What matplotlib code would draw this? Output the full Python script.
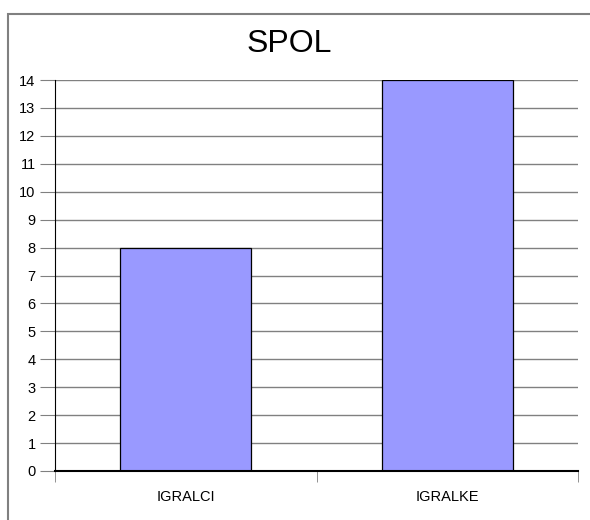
import matplotlib.pyplot as plt
from matplotlib.patches import Rectangle

# data
categories = ["IGRALCI", "IGRALKE"]
values = [8, 14]
y_ticks = list(range(0, 15))

plt.rcParams['font.family'] = ['Liberation Sans', 'DejaVu Sans']

fig = plt.figure(figsize=(5.9, 5.2), dpi=100)

# frame round the whole chart area
fig.patches.append(Rectangle((8 / 590, -0.1), 1.2, 1 - 14 / 520 + 0.1,
                             transform=fig.transFigure, fill=False,
                             edgecolor="#808080", linewidth=1.5))

ax = fig.add_axes([55 / 590, 49 / 520, 523 / 590, 391 / 520])
x = range(len(categories))
ax.bar(x, values, width=0.5, color="#9999FF", edgecolor="black",
       linewidth=0.9, zorder=3)

ax.set_xlim(-0.5, len(categories) - 0.5)
ax.set_ylim(0, 14)
ax.set_yticks(y_ticks)
ax.set_xticks(list(x))
ax.set_xticklabels(categories, fontsize=10.5)
ax.set_xticks([-0.5, 0.5, 1.5], minor=True)

ax.yaxis.grid(True, color="#808080", linewidth=1, zorder=0)
ax.tick_params(axis="y", length=11, color="#808080", labelsize=10.5, pad=3)
ax.tick_params(axis="x", which="major", length=0, pad=14)
ax.tick_params(axis="x", which="minor", length=8, color="#808080")

for s in ["top", "right"]:
    ax.spines[s].set_visible(False)
ax.spines["left"].set_color("black")
ax.spines["bottom"].set_color("black")
ax.spines["bottom"].set_linewidth(1.5)
ax.spines["bottom"].set_zorder(4)

fig.text(289 / 590, 1 - 44 / 520, "SPOL", fontsize=23, ha="center", va="center")

fig.savefig("out.png", dpi=100)
